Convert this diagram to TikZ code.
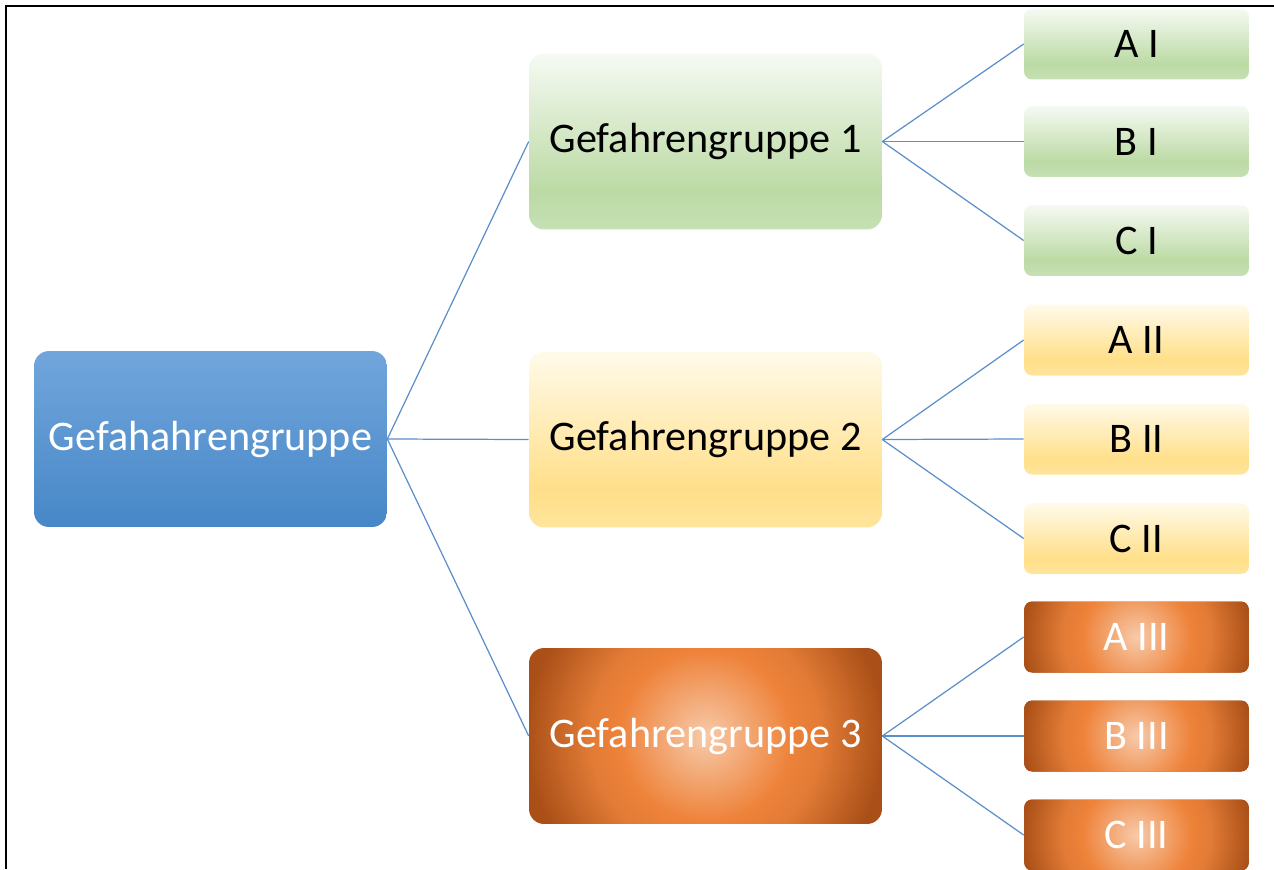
\documentclass[tikz,border=0pt]{standalone}
\usepackage{fontspec}
\setmainfont{Carlito}
\definecolor{linecol}{HTML}{5B8FC9}
\definecolor{bluetop}{HTML}{71A6DC}
\definecolor{bluebot}{HTML}{4787C7}
\definecolor{grtop}{HTML}{F6FAF3}
\definecolor{grfull}{HTML}{BBDAA4}
\definecolor{grbot}{HTML}{C6E0B4}
\definecolor{yetop}{HTML}{FFFAEA}
\definecolor{yefull}{HTML}{FFDF89}
\definecolor{yebot}{HTML}{FFE49C}
\definecolor{orlight}{HTML}{F7CAAA}
\definecolor{ormid}{HTML}{EE8239}
\definecolor{ordark}{HTML}{A94F17}
\pgfdeclareverticalshading{greenfade}{100bp}{color(0bp)=(grbot); color(25bp)=(grbot); color(36bp)=(grfull); color(75bp)=(grtop); color(100bp)=(grtop)}
\pgfdeclareverticalshading{yellowfade}{100bp}{color(0bp)=(yebot); color(25bp)=(yebot); color(36bp)=(yefull); color(75bp)=(yetop); color(100bp)=(yetop)}
\pgfdeclareradialshading{orangeglow}{\pgfpoint{0bp}{0bp}}{color(0bp)=(orlight); color(12bp)=(ormid); color(16bp)=(ormid!95!black); color(25bp)=(ordark); color(50bp)=(ordark)}
\begin{document}
\begin{tikzpicture}[x=0.02cm, y=-0.02cm]

      \tikzset{bigbox/.style={minimum width=7.06cm, minimum height=3.52cm, rounded corners=0.3cm, inner sep=2pt, font=\fontsize{24}{28}\selectfont},
               smallbox/.style={minimum width=4.5cm, minimum height=1.42cm, rounded corners=0.16cm, inner sep=2pt, font=\fontsize{24}{28}\selectfont},
               bluebox/.style={shading=axis, top color=bluetop, bottom color=bluebot, text=white},
               greenbox/.style={shading=greenfade, text=black},
               yellowbox/.style={shading=yellowfade, text=black},
               orangebox/.style={fill=ordark, text=white, path picture={\shade[shading=orangeglow] (path picture bounding box.center) circle (#1);}},
               every edge/.style={draw, linecol, line width=0.7pt}}
      \useasboundingbox (0,0) rectangle (1274,869);
      \draw[line width=1.3pt] (6,869) -- (6,6) -- (1274,6);
%% Boxes
      	\node[bigbox, bluebox] (root) at (210.5,439) {Gefahahrengruppe};
      	\node[bigbox, greenbox] (g1) at (705.5,141.5) {Gefahrengruppe 1};
      	\node[bigbox, yellowbox] (g2) at (705.5,439.5) {Gefahrengruppe 2};
      	\node[bigbox, orangebox=3.6cm] (g3) at (705.5,736) {Gefahrengruppe 3};
      	\node[smallbox, greenbox] (a1) at (1136.5,44) {A I};
      	\node[smallbox, greenbox] (b1) at (1136.5,141.5) {B I};
      	\node[smallbox, greenbox] (c1) at (1136.5,240.5) {C I};
      	\node[smallbox, yellowbox] (a2) at (1136.5,340) {A II};
      	\node[smallbox, yellowbox] (b2) at (1136.5,439) {B II};
      	\node[smallbox, yellowbox] (c2) at (1136.5,538.5) {C II};
      	\node[smallbox, orangebox=2.3cm] (a3) at (1136.5,637) {A III};
      	\node[smallbox, orangebox=2.3cm] (b3) at (1136.5,736) {B III};
      	\node[smallbox, orangebox=2.3cm] (c3) at (1136.5,835) {C III};

%Lines
		\path (root.east) edge (g1.west);
		\path (root.east) edge (g2.west);
		\path (root.east) edge (g3.west);
		\path (g1.east) edge (a1.west);
		\path (g1.east) edge (b1.west);
		\path (g1.east) edge (c1.west);
		\path (g2.east) edge (a2.west);
		\path (g2.east) edge (b2.west);
		\path (g2.east) edge (c2.west);
		\path (g3.east) edge (a3.west);
		\path (g3.east) edge (b3.west);
		\path (g3.east) edge (c3.west);
	\end{tikzpicture}
\end{document}
